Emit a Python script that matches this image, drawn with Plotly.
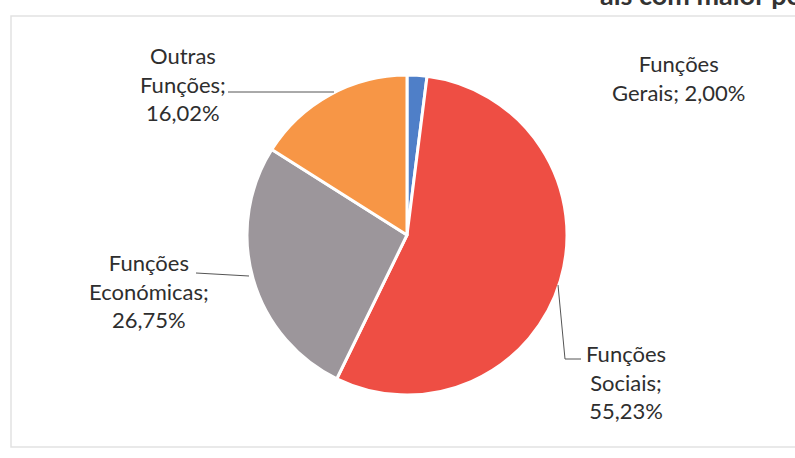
import plotly.graph_objects as go

W, H = 795, 458

labels = ["Funções Gerais", "Funções Sociais", "Funções Económicas", "Outras Funções"]
values = [2.00, 55.23, 26.75, 16.02]
colors = ["#4f7fc8", "#ee4e44", "#9c969b", "#f79646"]

# label text layout (line breaks as in the original)
label_lines = [
    ["Funções", "Gerais; {}"],
    ["Funções", "Sociais;", "{}"],
    ["Funções", "Económicas;", "{}"],
    ["Outras", "Funções;", "{}"],
]


def px(x):
    return x / W


def py(y):
    return (H - y) / H


def pct(v):
    return f"{v:.2f}".replace(".", ",") + "%"


fig = go.Figure(go.Pie(
    labels=labels,
    values=values,
    sort=False,
    direction="clockwise",
    rotation=0,
    marker=dict(colors=colors, line=dict(color="white", width=3)),
    textinfo="none",
    hoverinfo="label+percent",
    showlegend=False,
    domain=dict(x=[px(247), px(567)], y=[py(395), py(75)]),
))

# label positions (centre of text block, pixels)
label_pos = [(678, 78), (626, 382), (149, 291), (183, 84)]
for lines, v, (x, y) in zip(label_lines, values, label_pos):
    txt = "<br>".join(lines).format(pct(v))
    fig.add_annotation(
        x=px(x), y=py(y), xref="paper", yref="paper",
        xanchor="center", yanchor="middle",
        text=txt, showarrow=False, align="center",
        font=dict(family="Lato", size=22, color="#2e2e2e"),
    )

# leader lines
line_style = dict(color="#555555", width=1)
fig.add_shape(type="line", xref="paper", yref="paper",
              x0=px(228), y0=py(92), x1=px(334), y1=py(92), line=line_style)
fig.add_shape(type="line", xref="paper", yref="paper",
              x0=px(196), y0=py(273), x1=px(249), y1=py(276), line=line_style)
fig.add_shape(type="path", xref="paper", yref="paper",
              path=f"M {px(558)} {py(285)} L {px(565)} {py(359)} L {px(581)} {py(359)}",
              line=line_style)

# chart frame from the scanned page
fig.add_shape(type="rect", xref="paper", yref="paper",
              x0=px(11), y0=py(447), x1=px(800), y1=py(16),
              line=dict(color="#e2e2e2", width=1.5))

# cut-off heading text at the top of the scan
fig.add_annotation(
    x=px(598), y=py(13), xref="paper", yref="paper",
    xanchor="left", yanchor="bottom",
    text="<b>ais com maior peso</b>", showarrow=False,
    font=dict(family="Lato", size=27, color="#333333"),
)

fig.update_layout(
    width=W, height=H,
    margin=dict(l=0, r=0, t=0, b=0),
    paper_bgcolor="white",
    plot_bgcolor="white",
)

fig.write_html(
    "out.html",
    config={"displayModeBar": False},
    post_script="document.body.style.margin='0';document.body.style.overflow='hidden';",
)
